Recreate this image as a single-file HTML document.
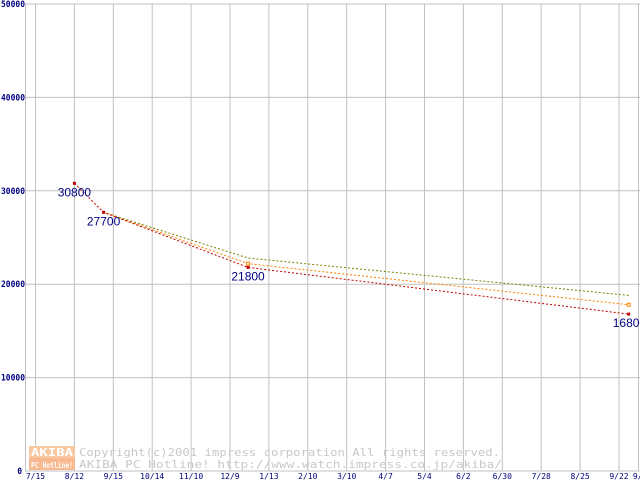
<!DOCTYPE html>
<html><head><meta charset="utf-8"><style>
html,body{margin:0;padding:0;background:#fff;}
svg{display:block;font-family:"DejaVu Sans Mono","Liberation Mono",monospace;}
</style></head><body>
<svg id="chart" width="640" height="480" viewBox="0 0 640 480" xmlns="http://www.w3.org/2000/svg">
<g id="grid"></g>
<g id="wm">
  <rect x="29" y="446" width="46" height="12" fill="#f8c8a0"/>
  <rect x="29" y="458" width="46" height="12" fill="#f8b890"/>
  <text x="31" y="456" font-size="11" fill="#fff" font-weight="bold" textLength="42" lengthAdjust="spacingAndGlyphs">AKIBA</text>
  <text x="31" y="468" font-size="7.5" fill="#fff" font-weight="bold" textLength="42" lengthAdjust="spacingAndGlyphs">PC Hotline!</text>
  <text x="79" y="456" font-size="11" fill="#c8c8c8" textLength="421" lengthAdjust="spacingAndGlyphs">Copyright(c)2001 impress corporation All rights reserved.</text>
  <text x="79" y="468" font-size="11" fill="#c8c8c8" textLength="423" lengthAdjust="spacingAndGlyphs">AKIBA PC Hotline!  http://www.watch.impress.co.jp/akiba/</text>
</g>
<g id="series"></g>
<g id="labels"></g>
</svg>
<script>
const xTickLabels = ["7/15","8/12","9/15","10/14","11/10","12/9","1/13","2/10","3/10","4/7","5/4","6/2","6/30","7/28","8/25","9/22"];
const yTicks = [0,10000,20000,30000,40000,50000];
const redDays = [28,49,153,427];
const redValues = [30800,27700,21800,16800];
const orangeDays = [49,153,427];
const orangeValues = [27700,22200,17800];
const oliveDays = [49,153,427];
const oliveValues = [27700,22800,18800];
const extraTickDay = 434;
const extraTickLabel = "9/29";

const NS="http://www.w3.org/2000/svg";
const x0=35.5, pxPerDay=38.9/28;
const yBase=471, yTop=4;
function X(d){return x0+d*pxPerDay;}
function Y(v){return yBase-(v/50000)*(yBase-yTop);}
function mk(tag,attrs,parent){const e=document.createElementNS(NS,tag);for(const k in attrs)e.setAttribute(k,attrs[k]);parent.appendChild(e);return e;}
const grid=document.getElementById('grid'),ser=document.getElementById('series'),lab=document.getElementById('labels');

yTicks.forEach(v=>{
  const l=mk('line',{x1:25,x2:640,y1:Y(v),y2:Y(v),stroke:'#c0c0c0','stroke-width':1},grid);
  
  
  const s=String(v);
  const w=s.length*4.8;
  const t=mk('text',{x:(v===0?22:25)-w,y:Y(v)+3,'font-size':8.5,fill:'#000080','font-weight':'bold',textLength:w,lengthAdjust:'spacingAndGlyphs'},lab);
  t.textContent=s;
  
  
});
const axis=mk('line',{x1:25.5,x2:25.5,y1:4,y2:471,stroke:'#c0c0c0','stroke-width':1},grid);


xTickLabels.forEach((s,i)=>{
  const x=X(i*28);
  const l=mk('line',{x1:x,x2:x,y1:4,y2:471,stroke:'#c0c0c0','stroke-width':1},grid);
  
  
  const t=mk('text',{x:x,y:479,'text-anchor':'middle','font-size':8,fill:'#000080'},lab);
  t.textContent=s;
  
  
});
{
  const x=X(extraTickDay);
  const l=mk('line',{x1:x,x2:x,y1:4,y2:471,stroke:'#c0c0c0','stroke-width':1},grid);
  
  
  const t=mk('text',{x:x+4,y:479,'text-anchor':'middle','font-size':8,fill:'#000080'},lab);
  t.textContent=extraTickLabel;
  
  
}
function drawSeries(days,vals,color,name,markers,labelVals){
  const pts=days.map((d,i)=>X(d)+','+Y(vals[i])).join(' ');
  const pl=mk('polyline',{points:pts,fill:'none',stroke:color,'stroke-width':1,'stroke-dasharray':'2,2'},ser);
  
  
  if(!markers) return;
  days.forEach((d,i)=>{
    if(name==='orange-series' && !(i===1||i===days.length-1)) return;
    const hollow=name==='orange-series';
    const r=mk('rect',{x:X(d)-1.5,y:Y(vals[i])-1.5,width:3,height:3,fill:hollow?'#fff':color,stroke:color,'stroke-width':hollow?1:0},ser);
    
    
    if(labelVals){
      const last=i===days.length-1;
      const t=mk('text',{x:last?X(d)-16:X(d),y:Y(vals[i])+13,'text-anchor':last?'start':'middle','font-size':12,fill:'#000080',"font-family":"Liberation Sans, sans-serif"},lab);
      t.textContent=String(vals[i]);
      
      
    }
  });
}
drawSeries(oliveDays,oliveValues,'#808000','olive-series',false,false);
drawSeries(orangeDays,orangeValues,'#ff8000','orange-series',true,false);
drawSeries(redDays,redValues,'#c00000','red-series',true,true);
</script>
</body></html>
